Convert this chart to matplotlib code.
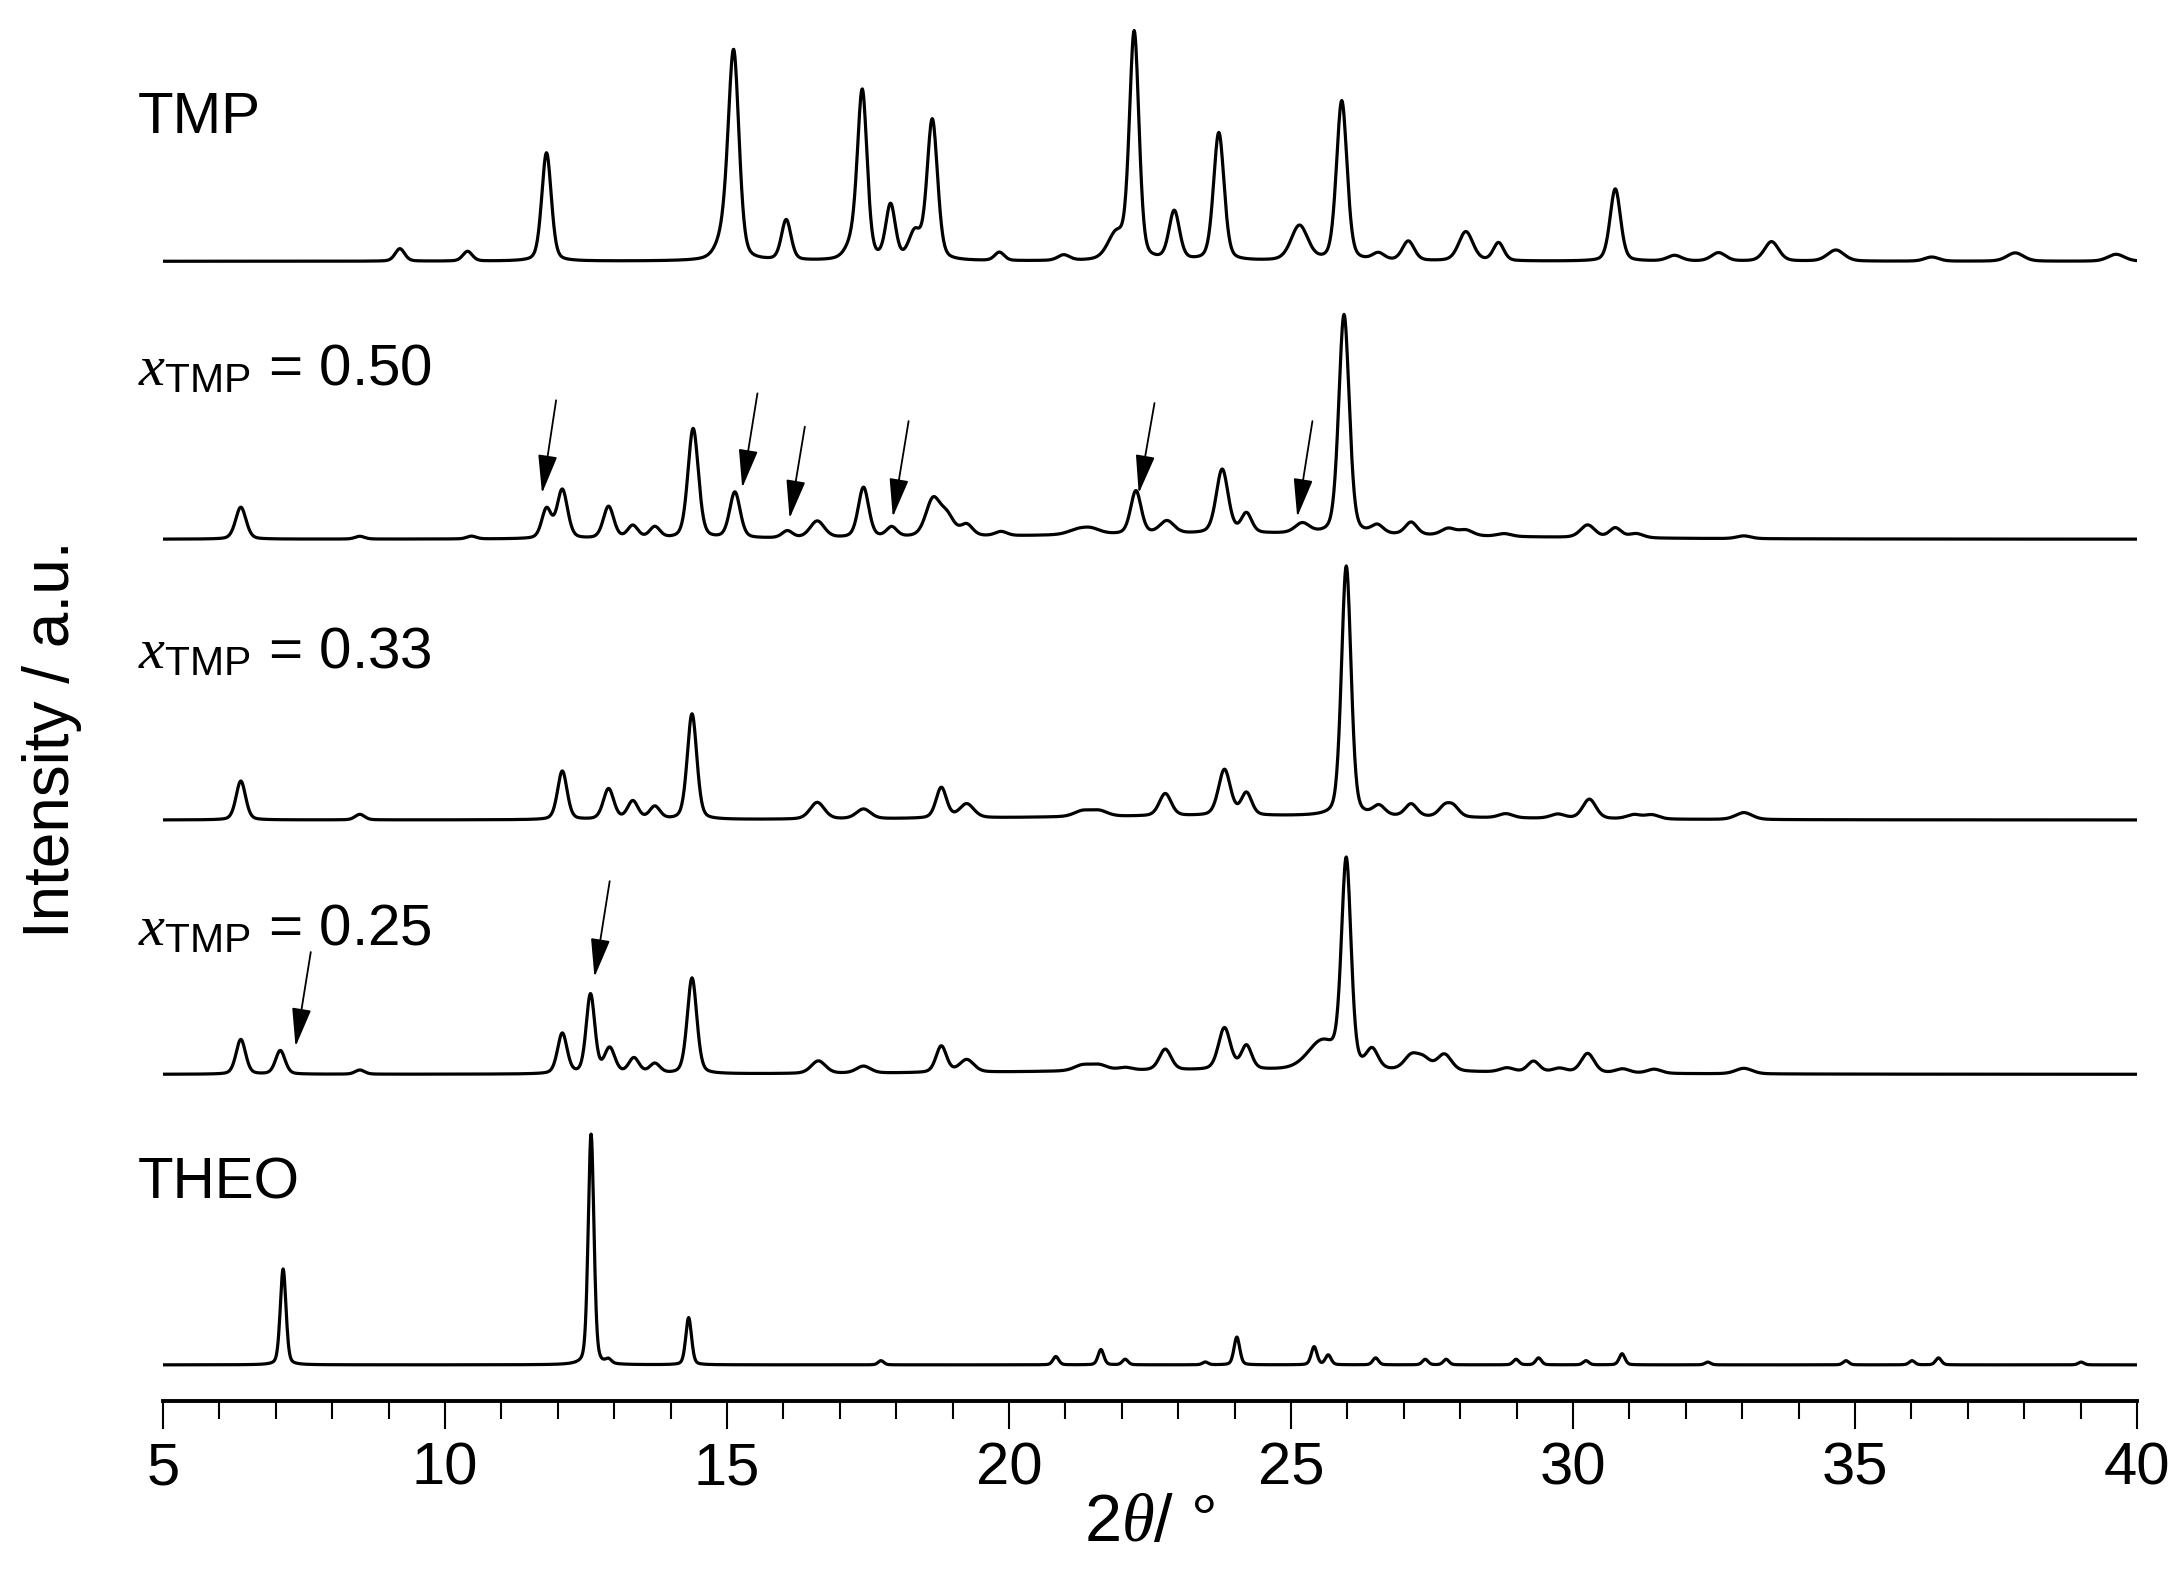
import numpy as np
import matplotlib
matplotlib.use('Agg')
import matplotlib.pyplot as plt
from matplotlib.ticker import MultipleLocator

plt.rcParams['font.family'] = ['Liberation Sans', 'DejaVu Sans']
plt.rcParams['mathtext.fontset'] = 'custom'
plt.rcParams['mathtext.rm'] = 'Liberation Sans'
plt.rcParams['mathtext.it'] = 'Liberation Serif:italic'

# peak tables: position (2theta), height (a.u.), FWHM
tmp_pos = [9.2, 10.4, 11.8, 15.0, 15.12, 16.05, 17.25, 17.4, 17.9, 18.33, 18.64, 19.83, 20.97,
           21.9, 22.22, 22.93, 23.72, 25.15, 25.9, 26.55, 27.08, 28.1, 28.68, 30.75, 31.8,
           32.58, 33.52, 34.66, 36.36, 37.84, 39.63]
tmp_int = [9, 7, 78, 20, 138, 29, 12, 117, 39, 19, 101, 6, 4,
           18, 163, 35, 92, 25, 115, 5, 14, 21, 13, 52, 4,
           6, 14, 8, 3, 6, 5]
tmp_fwhm = [0.2, 0.2, 0.2, 0.35, 0.22, 0.2, 0.3, 0.2, 0.2, 0.25, 0.22, 0.2, 0.25,
            0.35, 0.2, 0.22, 0.22, 0.35, 0.22, 0.25, 0.25, 0.3, 0.22, 0.22, 0.3,
            0.3, 0.3, 0.35, 0.3, 0.35, 0.35]

x50_pos = [6.38, 8.49, 10.47, 11.8, 12.08, 12.9, 13.33, 13.72, 14.4, 15.14, 16.07, 16.6,
           17.42, 17.92, 18.65, 18.9, 19.25, 19.86, 21.2, 21.45, 22.25, 22.8, 23.78, 24.21,
           25.2, 25.94, 26.53, 27.13, 27.79, 28.1, 28.78, 30.26, 30.75, 31.12, 33.03, 24.0]
x50_int = [23, 2, 2, 21, 35, 23, 9, 8, 79, 33, 5, 12,
           36, 7, 26, 14, 8, 3, 3, 4, 31, 9, 46, 14,
           7, 158, 6, 9, 5, 4, 2, 9, 7, 3, 2, 4]
x50_fwhm = [0.22, 0.2, 0.2, 0.2, 0.22, 0.22, 0.22, 0.22, 0.22, 0.22, 0.22, 0.3,
            0.22, 0.22, 0.3, 0.3, 0.25, 0.25, 0.4, 0.4, 0.22, 0.3, 0.25, 0.22,
            0.3, 0.22, 0.25, 0.25, 0.3, 0.3, 0.3, 0.3, 0.25, 0.3, 0.3, 9.0]

x33_pos = [6.38, 8.49, 12.08, 12.9, 13.33, 13.72, 14.38, 16.6, 17.42, 18.8, 19.25,
           21.3, 21.6, 22.77, 23.82, 24.21, 25.98, 26.56, 27.13, 27.72, 27.88, 28.81,
           29.73, 30.29, 31.08, 31.4, 33.03, 24.0]
x33_int = [28, 4, 35, 22, 13, 9, 76, 12, 7, 22, 10,
           4, 4, 16, 33, 16, 180, 7, 9, 7, 7, 3,
           3, 14, 3, 3, 5, 3]
x33_fwhm = [0.2, 0.2, 0.2, 0.22, 0.22, 0.22, 0.2, 0.3, 0.3, 0.22, 0.3,
            0.35, 0.35, 0.25, 0.25, 0.22, 0.2, 0.25, 0.25, 0.25, 0.25, 0.3,
            0.3, 0.28, 0.3, 0.3, 0.35, 9.0]

x25_pos = [6.38, 7.08, 8.49, 12.08, 12.58, 12.92, 13.35, 13.72, 14.38, 16.62, 17.42,
           18.8, 19.25, 21.3, 21.6, 22.06, 22.77, 23.82, 24.21, 25.55, 25.98, 26.44,
           27.13, 27.35, 27.72, 28.83, 29.3, 29.76, 30.26, 30.88, 31.44, 33.03, 24.0]
x25_int = [25, 17, 3, 29, 57, 18, 11, 7, 69, 9, 5,
           19, 9, 4, 4, 2, 15, 30, 17, 20, 148, 14,
           10, 8, 12, 3, 8, 3, 14, 3, 3, 4, 3]
x25_fwhm = [0.2, 0.2, 0.2, 0.2, 0.18, 0.22, 0.22, 0.22, 0.2, 0.3, 0.3,
            0.22, 0.3, 0.35, 0.35, 0.3, 0.25, 0.25, 0.22, 0.6, 0.2, 0.25,
            0.3, 0.3, 0.3, 0.3, 0.25, 0.3, 0.28, 0.3, 0.3, 0.35, 9.0]

theo_pos = [7.13, 12.59, 12.9, 14.32, 17.73, 20.83, 21.63, 22.06, 23.48, 24.04, 25.41,
            25.66, 26.5, 27.38, 27.75, 28.99, 29.39, 30.23, 30.87, 32.39, 34.84, 36.01,
            36.48, 39.01]
theo_int = [69, 166, 3, 34, 3, 6, 11, 4, 2, 20, 13,
            7, 5, 4, 4, 4, 5, 3, 8, 2, 3, 3,
            5, 2]
theo_fwhm = [0.12] * len(theo_pos)

labels = ['THEO', '$x_{\\rm TMP}$ = 0.25', '$x_{\\rm TMP}$ = 0.33', '$x_{\\rm TMP}$ = 0.50', 'TMP']
offsets = [0, 209, 392, 594, 794]
label_y = [120, 302, 501, 705, 886]

# arrows: (tail x, tail y, head x, head y) in data units
arrows = [(11.97, 694, 11.72, 627), (15.54, 699, 15.27, 631), (16.38, 675, 16.11, 609),
          (18.22, 679, 17.94, 610), (22.58, 692, 22.30, 627), (25.38, 679, 25.11, 610),
          (7.62, 297, 7.35, 229), (12.92, 348, 12.65, 279)]

two_theta = np.linspace(5, 40, 3501)


def pattern(pos, height, fwhm, eta=0.3):
    y = np.zeros_like(two_theta)
    for p, h, w in zip(pos, height, fwhm):
        d = (two_theta - p) / (w / 2.0)
        y += h * (eta / (1 + d ** 2) + (1 - eta) * np.exp(-np.log(2) * d ** 2))
    return y


def main():
    fig = plt.figure(figsize=(21.8, 15.9), dpi=100)
    ax = fig.add_axes([163 / 2180, 189 / 1590, 1974 / 2180, 1401 / 1590])

    data = [(theo_pos, theo_int, theo_fwhm), (x25_pos, x25_int, x25_fwhm),
            (x33_pos, x33_int, x33_fwhm), (x50_pos, x50_int, x50_fwhm),
            (tmp_pos, tmp_int, tmp_fwhm)]
    for (pos, inten, fw), off, lab, ly in zip(data, offsets, labels, label_y):
        ax.plot(two_theta, pattern(pos, inten, fw) + off, color='k', lw=2.3)
        ax.text(4.55, ly, lab, fontsize=42, va='baseline', ha='left')

    for tx, ty, hx, hy in arrows:
        ax.annotate('', xy=(hx, hy), xytext=(tx, ty),
                    arrowprops=dict(arrowstyle='-|>,head_length=1.2,head_width=0.3',
                                    color='k', lw=1.3, mutation_scale=20,
                                    shrinkA=0, shrinkB=0))

    ax.set_xlim(5, 40)
    ax.set_ylim(-26, 982)
    for s in ['left', 'right', 'top']:
        ax.spines[s].set_visible(False)
    ax.spines['bottom'].set_linewidth(2.8)
    ax.set_yticks([])
    ax.xaxis.set_major_locator(MultipleLocator(5))
    ax.xaxis.set_minor_locator(MultipleLocator(1))
    ax.tick_params(axis='x', which='major', direction='out', length=20, width=1.5,
                   labelsize=43, pad=9)
    ax.tick_params(axis='x', which='minor', direction='out', length=13, width=1.5)
    ax.set_xlabel('2$\\theta$/ °', fontsize=48, labelpad=-2)
    fig.text(0.024, 0.535, 'Intensity / a.u.', rotation=90, fontsize=46,
             ha='center', va='center')

    fig.savefig('out.png', dpi=100)


if __name__ == "__main__":
    main()
